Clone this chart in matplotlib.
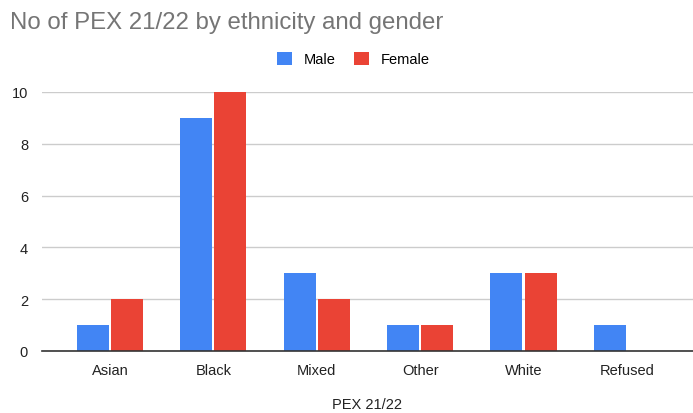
import matplotlib.pyplot as plt
import numpy as np

plt.rcParams['font.family'] = ['Liberation Sans', 'DejaVu Sans']

categories = ['Asian', 'Black', 'Mixed', 'Other', 'White', 'Refused']
male = [1, 9, 3, 1, 3, 1]
female = [2, 10, 2, 1, 3, 0]
yticks = [0, 2, 4, 6, 8, 10]

fig = plt.figure(figsize=(6.93, 4.14), dpi=100)
ax = fig.add_axes([0.0606, 0.1498, 0.9394, 0.6256])

x = np.arange(len(categories))
w = 0.31
ax.bar(x - w / 2 - 0.01, male, w, color='#4285F4', label='Male', zorder=3)
ax.bar(x + w / 2 + 0.01, female, w, color='#EA4335', label='Female', zorder=3)

ax.set_xlim(-0.658, 5.64)
ax.set_ylim(0, 10)
ax.set_yticks(yticks)
ax.set_xticks(x)
ax.set_xticklabels(categories)
ax.tick_params(axis='both', length=0, labelsize=10.5, colors='#222222')
ax.tick_params(axis='x', pad=9)
ax.tick_params(axis='y', pad=10)
ax.grid(axis='y', color='#cccccc', linewidth=1, zorder=0)
for side in ['top', 'right', 'left']:
    ax.spines[side].set_visible(False)
ax.spines['bottom'].set_color('#333333')
ax.spines['bottom'].set_linewidth(1.2)
ax.spines['bottom'].set_zorder(4)

# x-axis title placed in figure coords so it stays inside the canvas
fig.text(0.53, 0.022, 'PEX 21/22', fontsize=10.5, color='#222222',
         ha='center', va='center')

fig.text(0.014, 0.93, 'No of PEX 21/22 by ethnicity and gender',
         fontsize=17.3, color='#757575', ha='left', va='baseline')

fig.legend(loc='center', bbox_to_anchor=(0.51, 0.855), ncol=2, frameon=False,
           fontsize=10.5, handlelength=1.0, handleheight=1.0, columnspacing=1.3,
           handletextpad=0.8)

fig.savefig('out.png', dpi=100)
